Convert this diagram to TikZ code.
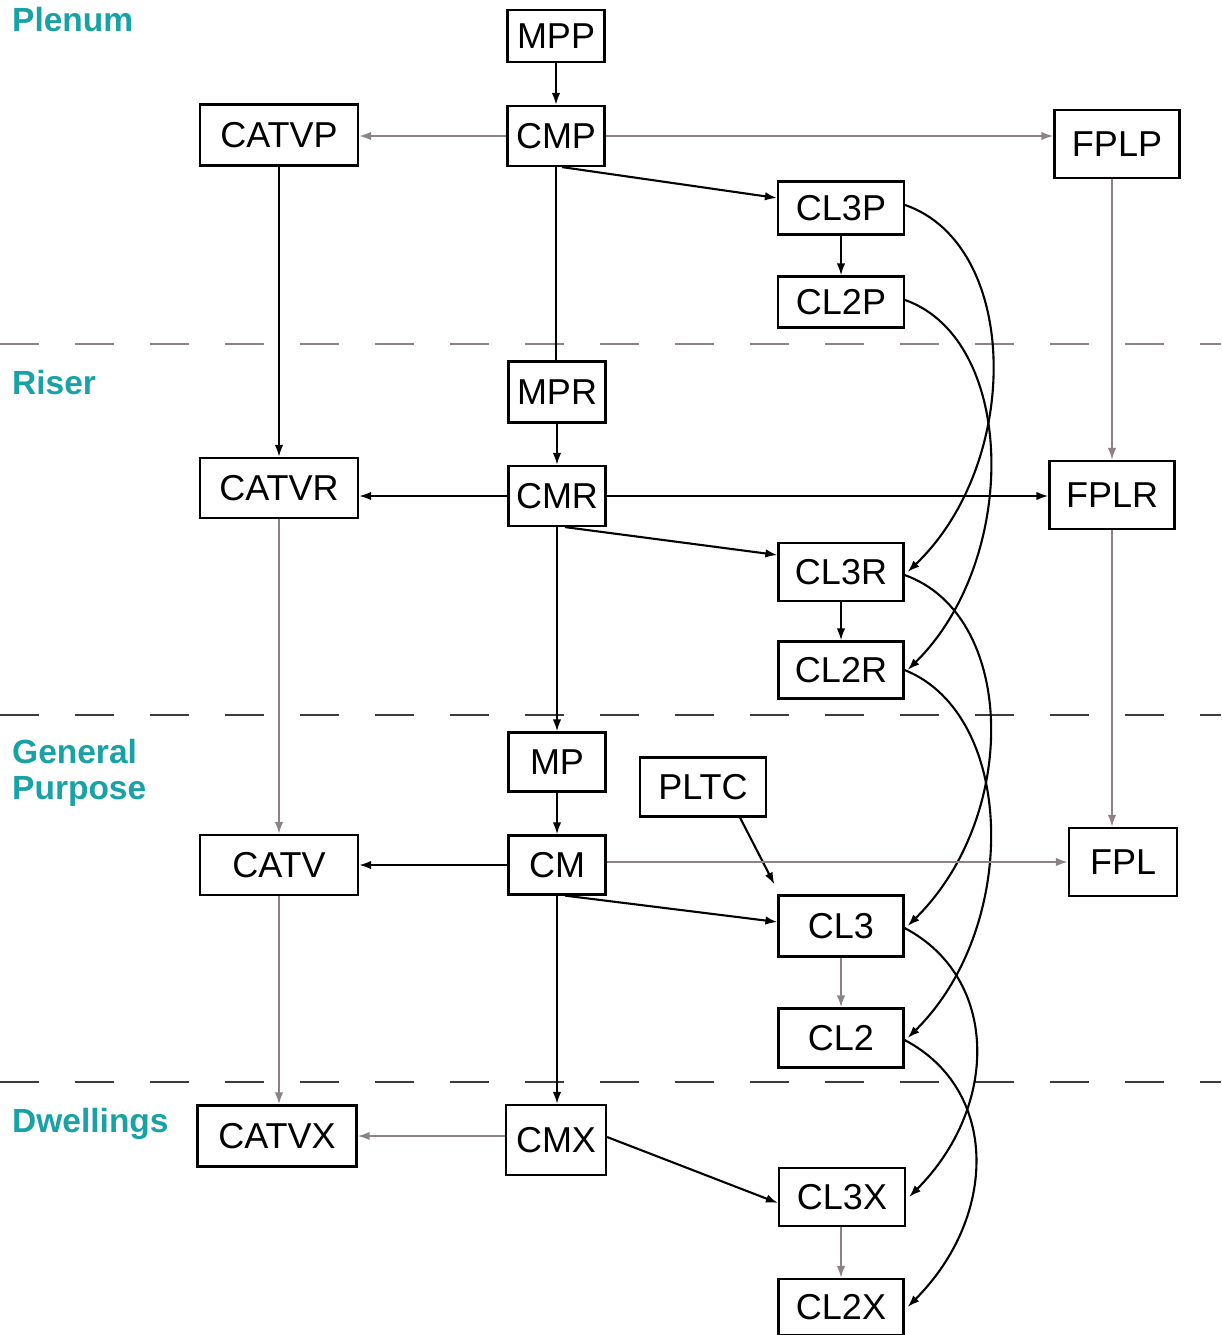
\documentclass[tikz,border=0pt]{standalone}
\usepackage{fontspec}
\setmainfont{Liberation Sans}
\usetikzlibrary{arrows.meta,calc}
\definecolor{teal}{RGB}{24,162,166}
\definecolor{lgray}{RGB}{140,132,132}
\definecolor{dgray}{RGB}{60,60,60}
\tikzset{
  box/.style={draw=black,line width=2.2pt,inner sep=0pt,font=\fontsize{36}{40}\selectfont},
  lab/.style={anchor=north west,inner sep=0pt,text=teal,font=\fontsize{33.5}{36}\selectfont\bfseries,align=left},
  conn/.style={line width=2.1pt,-{Latex[length=12pt,width=8.5pt]}},
  blk/.style={conn,draw=black},
  gry/.style={conn,draw=lgray},
  plain/.style={line width=2.1pt,draw=black},
  sep/.style={line width=2.4pt,dash pattern=on 39pt off 36pt},
}
\begin{document}
\begin{tikzpicture}[x=1pt,y=-1pt]
\useasboundingbox (0,0) rectangle (1221,1335);
% separators
\draw[sep,draw=lgray] (0,344) -- (1221,344);
\draw[sep,draw=dgray] (0,715) -- (1221,715);
\draw[sep,draw=dgray] (0,1082) -- (1221,1082);
% labels
\node[lab] (lplenum) at (12,7) {Plenum};
\node[lab] (lriser) at (12,370) {Riser};
\node[lab] (lgp) at (12,739) {General\\Purpose};
\node[lab] (ldw) at (12,1108) {Dwellings};
% nodes
\node[box,minimum width=97pt,minimum height=52pt] (MPP) at (556,36) {MPP};
\node[box,minimum width=97pt,minimum height=60pt] (CMP) at (556,136) {CMP};
\node[box,minimum width=158pt,minimum height=61pt] (CATVP) at (279,135) {CATVP};
\node[box,minimum width=125pt,minimum height=68pt] (FPLP) at (1117,144) {FPLP};
\node[box,minimum width=126pt,minimum height=53pt] (CL3P) at (841,208) {CL3P};
\node[box,minimum width=126pt,minimum height=51pt] (CL2P) at (841,302) {CL2P};
\node[box,minimum width=97pt,minimum height=61pt] (MPR) at (557,392) {MPR};
\node[box,minimum width=158pt,minimum height=60pt] (CATVR) at (279,488) {CATVR};
\node[box,minimum width=97pt,minimum height=60pt] (CMR) at (557,496) {CMR};
\node[box,minimum width=125pt,minimum height=68pt] (FPLR) at (1112,495) {FPLR};
\node[box,minimum width=125pt,minimum height=58pt] (CL3R) at (841,572) {CL3R};
\node[box,minimum width=125pt,minimum height=57pt] (CL2R) at (841,670) {CL2R};
\node[box,minimum width=97pt,minimum height=59pt] (MP) at (557,762) {MP};
\node[box,minimum width=126pt,minimum height=59pt] (PLTC) at (703,787) {PLTC};
\node[box,minimum width=158pt,minimum height=60pt] (CATV) at (279,865) {CATV};
\node[box,minimum width=97pt,minimum height=59pt] (CM) at (557,865) {CM};
\node[box,minimum width=108pt,minimum height=68pt] (FPL) at (1123,862) {FPL};
\node[box,minimum width=125pt,minimum height=61pt] (CL3) at (841,926) {CL3};
\node[box,minimum width=125pt,minimum height=59pt] (CL2) at (841,1038) {CL2};
\node[box,minimum width=159pt,minimum height=61pt] (CATVX) at (277,1136) {CATVX};
\node[box,minimum width=100pt,minimum height=70pt] (CMX) at (556,1140) {CMX};
\node[box,minimum width=126pt,minimum height=58pt] (CL3X) at (842,1197) {CL3X};
\node[box,minimum width=125pt,minimum height=56pt] (CL2X) at (841,1307) {CL2X};
% plenum level
\draw[blk] (MPP) -- (CMP);
\draw[gry] (CMP.west) -- (CMP.west -| CATVP.east);
\draw[gry] (CMP.east) -- (CMP.east -| FPLP.west);
\draw[blk] ([xshift=6pt]CMP.south) -- ([yshift=10pt]CL3P.west);
\draw[plain] (CMP.south) -- (CMP.south |- MPR.north);
\draw[blk] (CATVP) -- (CATVR);
\draw[gry] (FPLP.south -| FPLR.north) -- (FPLR.north);
\draw[blk] (CL3P) -- (CL2P);
\draw[blk] ([yshift=3pt]CL3P.east) .. controls +(115,40) and +(115,-110) .. ([xshift=3pt]CL3R.east);
\draw[blk] ([yshift=2pt]CL2P.east) .. controls +(112,40) and +(112,-110) .. ([xshift=3pt]CL2R.east);
% riser level
\draw[blk] (MPR) -- (CMR);
\draw[blk] (CMR.west) -- (CMR.west -| CATVR.east);
\draw[blk] (CMR.east) -- (CMR.east -| FPLR.west);
\draw[blk] ([xshift=8pt]CMR.south) -- ([yshift=17pt]CL3R.west);
\draw[blk] (CMR) -- (MP);
\draw[gry] (CATVR) -- (CATV);
\draw[gry] (FPLR.south) -- (FPLR.south |- FPL.north);
\draw[blk] (CL3R) -- (CL2R);
\draw[blk] ([yshift=-3pt]CL3R.east) .. controls +(112,40) and +(112,-110) .. ([xshift=3pt]CL3.east);
\draw[blk] ([yshift=0pt]CL2R.east) .. controls +(112,45) and +(112,-110) .. ([xshift=3pt]CL2.east);
% general purpose level
\draw[blk] (MP) -- (CM);
\draw[blk] ([xshift=37pt]PLTC.south) -- ([xshift=-3pt,yshift=10pt]CL3.north west);
\draw[blk] (CM.west) -- (CM.west -| CATV.east);
\draw[gry] ([yshift=3pt]CM.east) -- ([yshift=3pt]CM.east -| FPL.west);
\draw[blk] ([xshift=8pt]CM.south) -- ([yshift=4pt]CL3.west);
\draw[blk] (CM.south) -- (CM.south |- CMX.north);
\draw[gry] (CATV.south) -- (CATV.south |- CATVX.north);
\draw[gry] (CL3) -- (CL2);
\draw[blk] ([yshift=-2pt]CL3.east) .. controls +(95,50) and +(90,-90) .. ([xshift=3pt]CL3X.east);
\draw[blk] ([yshift=-2pt]CL2.east) .. controls +(95,50) and +(90,-90) .. ([xshift=3pt]CL2X.east);
% dwellings level
\draw[gry] (CATVX.east -| CMX.west) -- (CATVX.east);
\draw[blk] ([yshift=3pt]CMX.east) -- ([yshift=-6pt]CL3X.west);
\draw[gry] (CL3X.south -| CL2X.north) -- (CL2X.north);
\end{tikzpicture}
\end{document}
